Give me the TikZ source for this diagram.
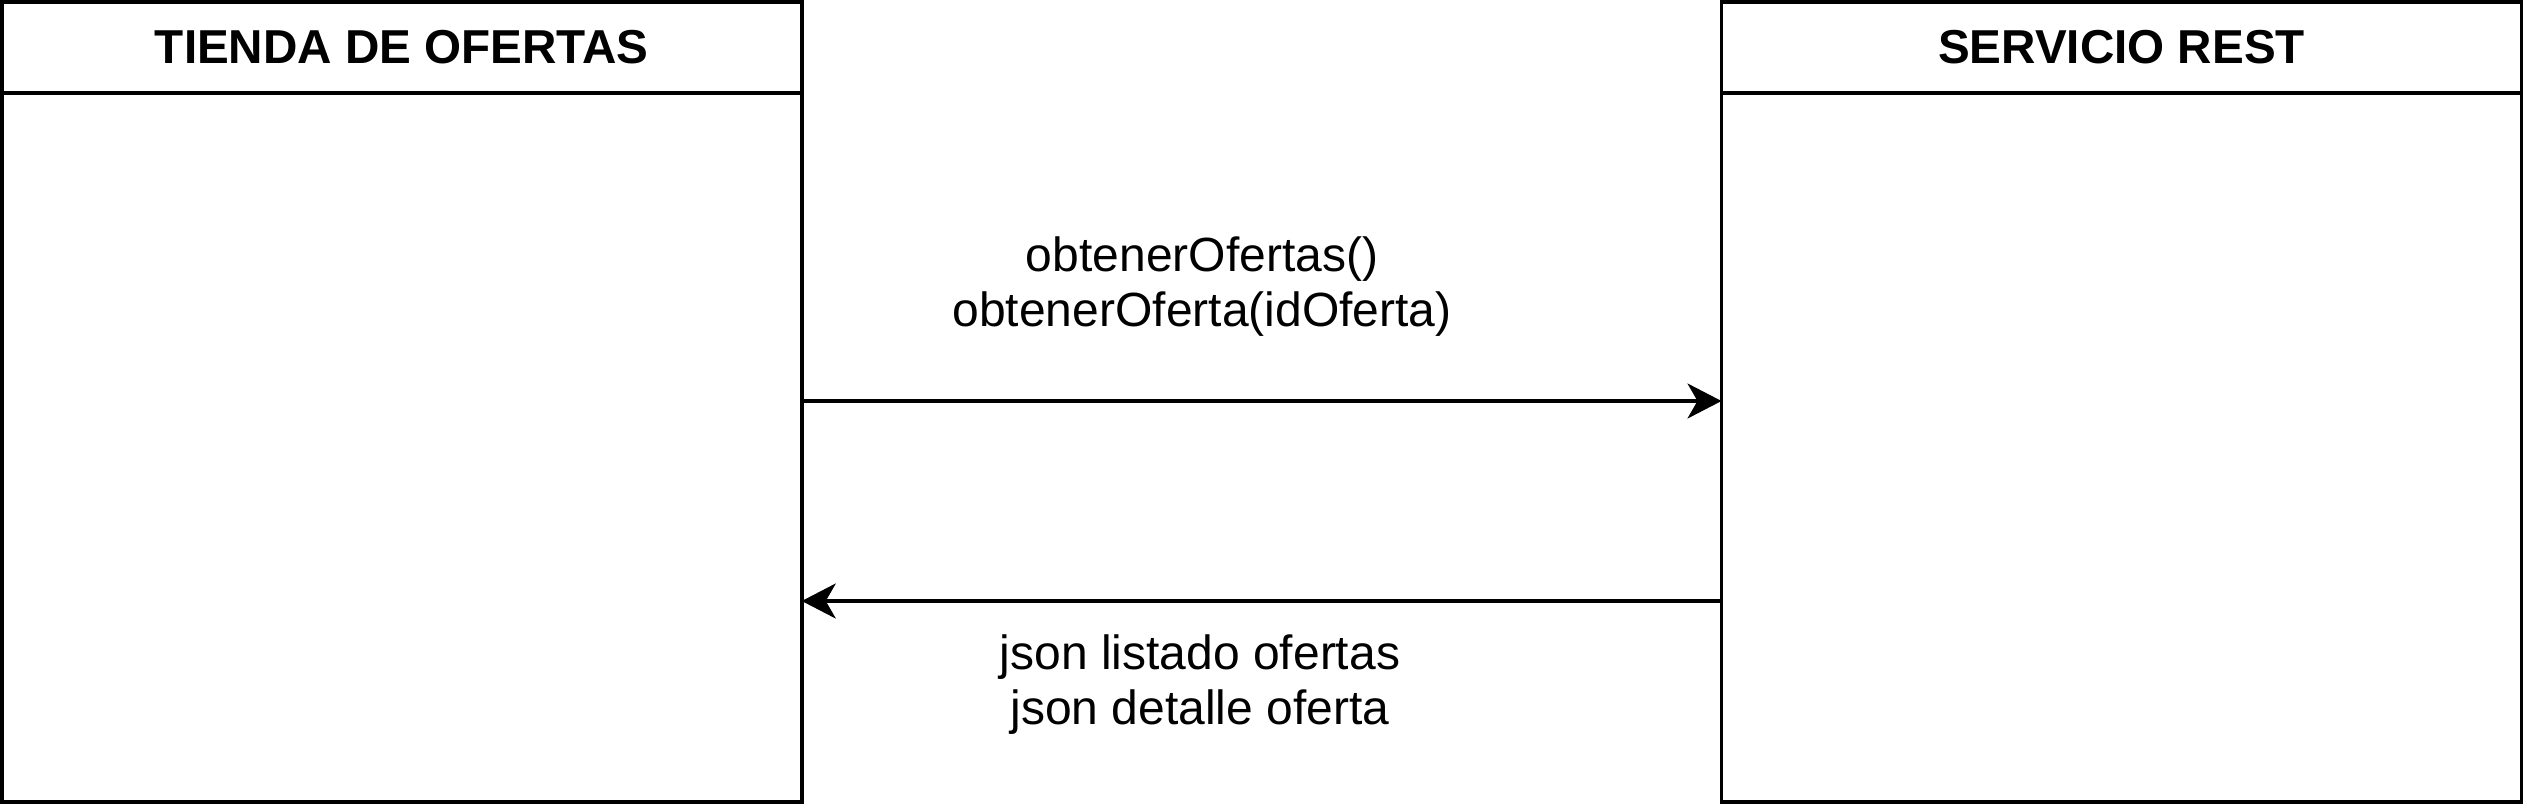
\documentclass[tikz,border=0pt]{standalone}
\usepackage{fontspec}
\setmainfont{Liberation Sans}
\usetikzlibrary{arrows.meta}
\begin{document}
\begin{tikzpicture}[x=0.5pt,y=-0.5pt,
  lw/.style={line width=1.75pt},
  hdr/.style={draw,lw,anchor=north west,outer sep=0pt,minimum width=400pt,minimum height=45.5pt,inner sep=0pt,font=\fontsize{23.8}{27}\selectfont\bfseries},
  body/.style={draw,lw,anchor=north west,outer sep=0pt,minimum width=400pt,minimum height=354.5pt,inner sep=0pt},
  lbl/.style={align=center,font=\fontsize{24}{27.5}\selectfont,inner sep=0pt},
  arr/.style={lw,-{Stealth[length=17pt,width=17.5pt,inset=5pt]}}]
\useasboundingbox (0,0) rectangle (2524,804);
\node[hdr] (th) at (1.75,1.75) {TIENDA DE OFERTAS};
\node[body] (tb) at (th.south west) {};
\node[hdr] (sh) at (1721.5,1.75) {SERVICIO REST};
\node[body] (sb) at (sh.south west) {};
\coordinate (y1) at (0,401);
\coordinate (y2) at (0,601);
\draw[arr] (tb.east |- y1) -- (sb.west |- y1);
\draw[arr] (sb.west |- y2) -- (tb.east |- y2);
\node[lbl] (l1) at (1202,287) {obtenerOfertas()\\obtenerOferta(idOferta)};
\node[lbl] (l2) at (1200,685) {json listado ofertas\\json detalle oferta};
\end{tikzpicture}
\end{document}
